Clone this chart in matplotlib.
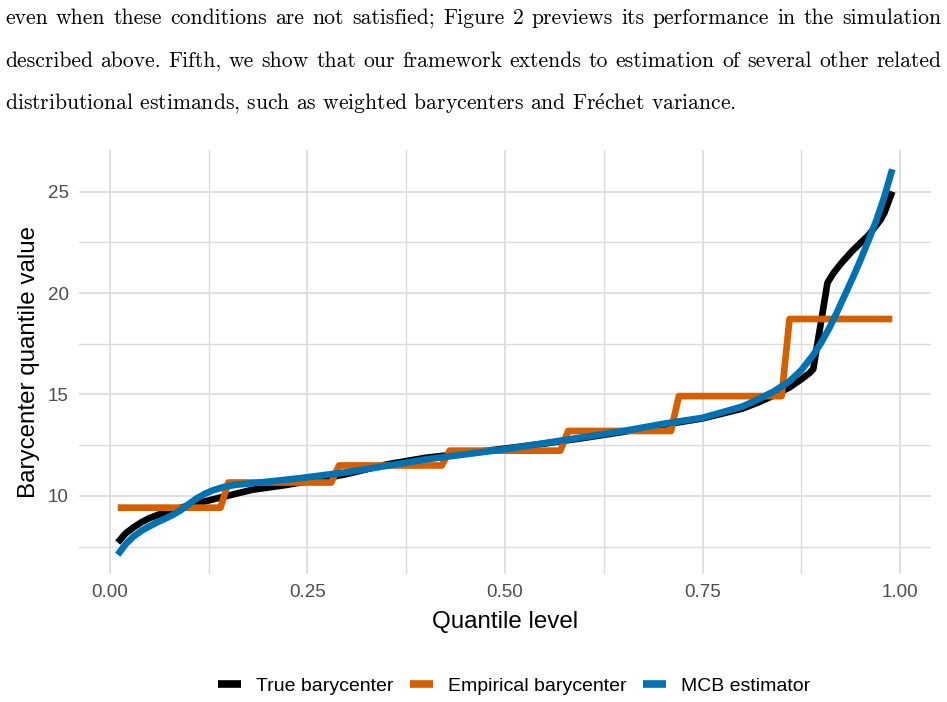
import matplotlib
matplotlib.use("Agg")
import matplotlib.pyplot as plt
from matplotlib.lines import Line2D

# ---------------- data ----------------
true_x = [0.01, 0.02, 0.03, 0.04, 0.05, 0.07, 0.09, 0.11, 0.14, 0.18, 0.22, 0.26, 0.30,
          0.35, 0.40, 0.45, 0.50, 0.55, 0.60, 0.65, 0.70, 0.75, 0.80, 0.82, 0.84, 0.86,
          0.875, 0.885, 0.89, 0.908, 0.915, 0.925, 0.94, 0.96, 0.975, 0.98, 0.99]
true_y = [7.70, 8.15, 8.45, 8.70, 8.90, 9.20, 9.42, 9.63, 9.92, 10.30, 10.52, 10.78, 11.08,
          11.55, 11.88, 12.10, 12.33, 12.58, 12.86, 13.16, 13.50, 13.82, 14.30, 14.60, 14.95,
          15.35, 15.75, 16.05, 16.25, 20.50, 20.95, 21.45, 22.10, 22.85, 23.60, 23.95, 25.00]

emp_x = [0.01, 0.14, 0.15, 0.28, 0.29, 0.42, 0.43, 0.57, 0.58, 0.71, 0.72, 0.85, 0.86, 0.99]
emp_y = [9.42, 9.42, 10.66, 10.66, 11.50, 11.50, 12.23, 12.23, 13.20, 13.20, 14.92, 14.92,
         18.72, 18.72]

mcb_x = [0.01, 0.02, 0.03, 0.04, 0.05, 0.06, 0.07, 0.08, 0.09, 0.10, 0.11, 0.12, 0.13,
         0.145, 0.16, 0.20, 0.24, 0.30, 0.35, 0.40, 0.45, 0.50, 0.55, 0.60, 0.65, 0.70,
         0.75, 0.80, 0.82, 0.84, 0.86, 0.875, 0.89, 0.90, 0.91, 0.92, 0.93, 0.94, 0.95,
         0.96, 0.97, 0.98, 0.99]
mcb_y = [7.10, 7.62, 8.00, 8.28, 8.50, 8.70, 8.88, 9.07, 9.30, 9.60, 9.88, 10.10, 10.27,
         10.45, 10.55, 10.70, 10.87, 11.17, 11.48, 11.80, 12.05, 12.30, 12.60, 12.90, 13.20,
         13.55, 13.85, 14.40, 14.75, 15.15, 15.65, 16.20, 16.95, 17.55, 18.25, 19.05, 19.90,
         20.75, 21.65, 22.60, 23.60, 24.75, 26.10]

series_labels = ["True barycenter", "Empirical barycenter", "MCB estimator"]
series_colors = ["#000000", "#D55E00", "#0072B2"]

x_ticks = [0.0, 0.25, 0.50, 0.75, 1.00]
x_tick_labels = ["0.00", "0.25", "0.50", "0.75", "1.00"]
x_minor = [0.125, 0.375, 0.625, 0.875]
y_ticks = [10, 15, 20, 25]
y_minor = [7.5, 12.5, 17.5, 22.5]

para_lines = [
    "even when these conditions are not satisfied; Figure 2 previews its performance in the simulation",
    "described above. Fifth, we show that our framework extends to estimation of several other related",
    r"distributional estimands, such as weighted barycenters and Fr$\mathrm{\acute{e}}$chet variance.",
]

# ---------------- figure ----------------
W, H = 947, 702
plt.rcParams["mathtext.fontset"] = "cm"
fig = plt.figure(figsize=(W / 100, H / 100), dpi=100)
fig.patch.set_facecolor("white")
renderer = fig.canvas.get_renderer()

SERIF = "cmr10"


def tw(s, fs):
    t = fig.text(0, 0, s, fontsize=fs, family=SERIF)
    w = t.get_window_extent(renderer).width
    t.remove()
    return w


# paragraph text (justified like LaTeX)
left_px, right_px = 5, 941
last_width = 732
fs = 12 * last_width / tw(para_lines[2], 12)
baselines = [24, 67, 110]
for i, line in enumerate(para_lines):
    yb = 1 - baselines[i] / H
    if i < 2:
        words = line.split(" ")
        widths = [tw(w_, fs) for w_ in words]
        gap = (right_px - left_px - sum(widths)) / (len(words) - 1)
        x = left_px
        for w_, wd in zip(words, widths):
            fig.text(x / W, yb, w_, fontsize=fs, family=SERIF, va="baseline", ha="left")
            x += wd + gap
    else:
        fig.text(left_px / W, yb, line, fontsize=fs, family=SERIF, va="baseline", ha="left")

# chart
pl, pr, pt, pb = 79, 931, 150, 574
ax = fig.add_axes([pl / W, 1 - pb / H, (pr - pl) / W, (pb - pt) / H])

allx = true_x + emp_x + mcb_x
ally = true_y + emp_y + mcb_y
xr = max(allx) - min(allx)
yr = max(ally) - min(ally)
ax.set_xlim(min(allx) - 0.05 * xr, max(allx) + 0.05 * xr)
ax.set_ylim(min(ally) - 0.05 * yr, max(ally) + 0.05 * yr)

lw = 4.8
for (xs, ys), c, z in zip([(true_x, true_y), (emp_x, emp_y), (mcb_x, mcb_y)],
                          series_colors, [3, 4, 5]):
    ax.plot(xs, ys, color=c, lw=lw, solid_capstyle="butt", solid_joinstyle="round", zorder=z)

for s in ax.spines.values():
    s.set_visible(False)
ax.set_xticks(x_ticks)
ax.set_xticklabels(x_tick_labels)
ax.set_xticks(x_minor, minor=True)
ax.set_yticks(y_ticks)
ax.set_yticks(y_minor, minor=True)
ax.grid(which="major", color="#DCDCDC", lw=1.25)
ax.grid(which="minor", color="#DCDCDC", lw=1.0)
ax.set_axisbelow(True)
ax.tick_params(which="both", length=0)
ax.tick_params(which="major", pad=7.5, labelsize=13.5, labelcolor="#4D4D4D")
for lab in ax.get_xticklabels() + ax.get_yticklabels():
    lab.set_family("Liberation Sans")

fig.text(505 / W, 1 - 628 / H, "Quantile level", fontsize=17.4, family="Liberation Sans",
         ha="center", va="baseline")
fig.text(35.5 / W, 1 - 362 / H, "Barycenter quantile value", fontsize=17.4,
         family="Liberation Sans", ha="center", va="baseline", rotation=90,
         rotation_mode="anchor")

handles = [Line2D([], [], color=c, lw=5.5, solid_capstyle="butt") for c in series_colors]
fig.legend(handles, series_labels, loc="center", bbox_to_anchor=(514 / W, 1 - 686 / H),
           ncol=3, frameon=False, prop={"family": "Liberation Sans", "size": 14},
           handlelength=1.2, handletextpad=0.75, columnspacing=0.85)

fig.savefig("out.png", dpi=100, facecolor="white")
